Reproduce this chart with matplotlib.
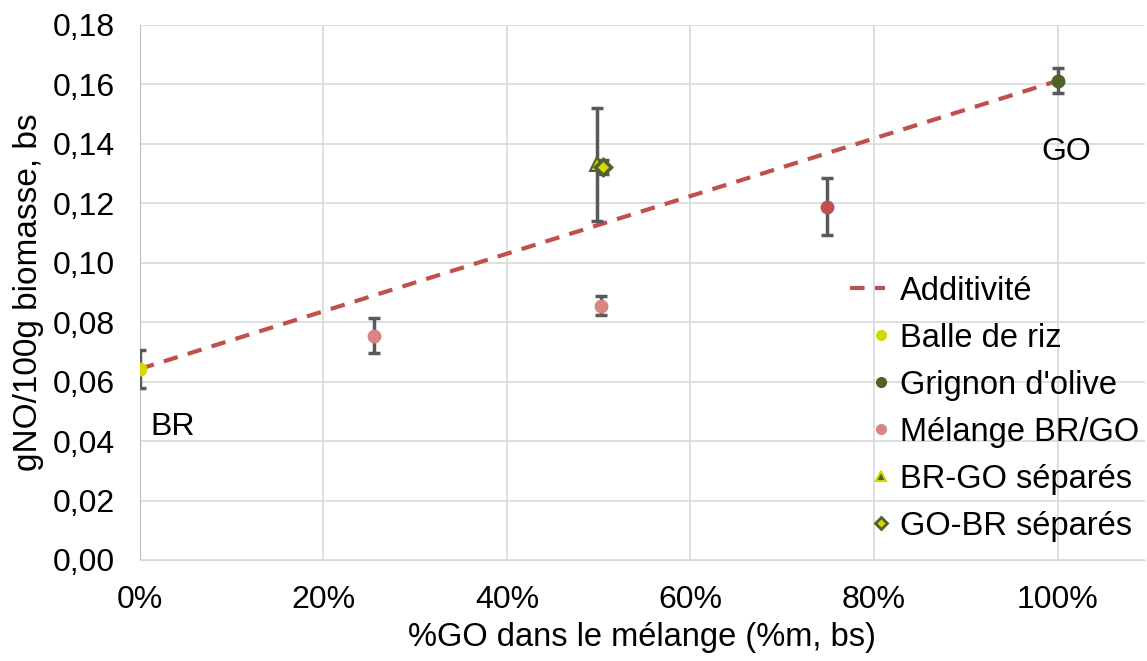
import matplotlib
matplotlib.use("Agg")
import matplotlib.pyplot as plt
from matplotlib.lines import Line2D
from matplotlib.legend_handler import HandlerLine2DCompound
from matplotlib.ticker import FuncFormatter

plt.rcParams['font.family'] = ['Liberation Sans', 'DejaVu Sans']

# Data
add_x = [0.0, 1.0]
add_y = [0.0643, 0.1612]

br_x, br_y, br_err = [0.0], [0.0643], [0.0064]
go_x, go_y, go_err = [1.0], [0.1612], [0.0042]
mix_x = [0.255, 0.503, 0.749]
mix_y = [0.0754, 0.0855, 0.1188]
mix_err = [0.0059, 0.0032, 0.0096]
brgo_x, brgo_y, brgo_err = [0.498], [0.1332], [0.0190]
gobr_x, gobr_y, gobr_err = [0.505], [0.1322], [0.0024]

yticks = [0.0, 0.02, 0.04, 0.06, 0.08, 0.10, 0.12, 0.14, 0.16, 0.18]
xticks = [0.0, 0.2, 0.4, 0.6, 0.8, 1.0]

YEL = '#d6d600'
OLV = '#4f6228'
PINK = '#d98584'
RED = '#c0504d'
ERRC = '#595959'
FS = 23

fig = plt.figure(figsize=(11.47, 6.61), dpi=100)
ax = fig.add_axes([0.122, 0.1528, 0.876, 0.8094])

ax.plot(add_x, add_y, ls=(0, (3.5, 2.5)), color=RED, lw=3, zorder=3, label='Additivité')

ekw = dict(ecolor=ERRC, elinewidth=2.5, capsize=4, capthick=2.5, ls='none', zorder=4)
ax.errorbar(br_x, br_y, yerr=br_err, **ekw)
ax.errorbar(go_x, go_y, yerr=go_err, **ekw)
ax.errorbar(mix_x, mix_y, yerr=mix_err, **ekw)
ax.errorbar(brgo_x, brgo_y, yerr=brgo_err, **ekw)
ax.errorbar(gobr_x, gobr_y, yerr=gobr_err, **ekw)

ax.plot(br_x, br_y, 'o', color=YEL, ms=9, zorder=5)
ax.plot(go_x, go_y, 'o', color=OLV, ms=9, zorder=5)
mix_colors = [PINK, PINK, RED]
for x, y, c in zip(mix_x, mix_y, mix_colors):
    ax.plot([x], [y], 'o', color=c, ms=9, zorder=5)
ax.plot(brgo_x, brgo_y, '^', mfc=YEL, mec=OLV, mew=1.5, ms=10, zorder=6)
ax.plot(gobr_x, gobr_y, 'D', mfc=YEL, mec=OLV, mew=2.5, ms=8, zorder=7)

ax.set_xlim(0, 1.095)
ax.set_ylim(0, 0.18)
ax.set_xticks(xticks)
ax.set_yticks(yticks)
ax.xaxis.set_major_formatter(FuncFormatter(lambda v, p: f"{v*100:.0f}%"))
ax.yaxis.set_major_formatter(FuncFormatter(lambda v, p: f"{v:.2f}".replace('.', ',')))
ax.grid(True, color='#d9d9d9', lw=1.2)
ax.set_axisbelow(True)
for s in ['top', 'right']:
    ax.spines[s].set_visible(False)
ax.spines['left'].set_color('#bfbfbf')
ax.spines['bottom'].set_color('#d9d9d9')
ax.tick_params(axis='both', length=0, labelsize=FS)
ax.tick_params(axis='y', pad=18)
ax.tick_params(axis='x', pad=18)
ax.set_ylabel('gNO/100g biomasse, bs', fontsize=24, labelpad=6)
ax.set_xlabel('%GO dans le mélange (%m, bs)', fontsize=23.5, labelpad=5)

ax.text(0.011, 0.0448, 'BR', fontsize=FS, ha='left', va='center')
ax.text(1.01, 0.1373, 'GO', fontsize=FS, ha='center', va='center')


class RightMarker(HandlerLine2DCompound):
    def get_xdata(self, legend, xdescent, ydescent, width, height, fontsize):
        xd, _ = super().get_xdata(legend, xdescent, ydescent, width, height, fontsize)
        return xd, [width - xdescent - 3]


handles = [
    Line2D([], [], ls=(0, (3.5, 2.5)), color=RED, lw=3),
    Line2D([], [], marker='o', ls='none', color=YEL, ms=7),
    Line2D([], [], marker='o', ls='none', color=OLV, ms=7),
    Line2D([], [], marker='o', ls='none', color=PINK, ms=7),
    Line2D([], [], marker='^', ls='none', mfc=OLV, mec=YEL, mew=1.5, ms=7),
    Line2D([], [], marker='D', ls='none', mfc=YEL, mec=OLV, mew=2, ms=6),
]
labels = ['Additivité', 'Balle de riz', "Grignon d'olive", 'Mélange BR/GO',
          'BR-GO séparés', 'GO-BR séparés']
hmap = {h: RightMarker(numpoints=1) for h in handles[1:]}
fig.legend(handles, labels, loc='upper left', bbox_to_anchor=(0.7297, 0.6025),
           frameon=False, fontsize=23.5, handlelength=1.07, handletextpad=0.46,
           labelspacing=0.49, borderaxespad=0, handler_map=hmap)

fig.savefig('out.png', dpi=100)
